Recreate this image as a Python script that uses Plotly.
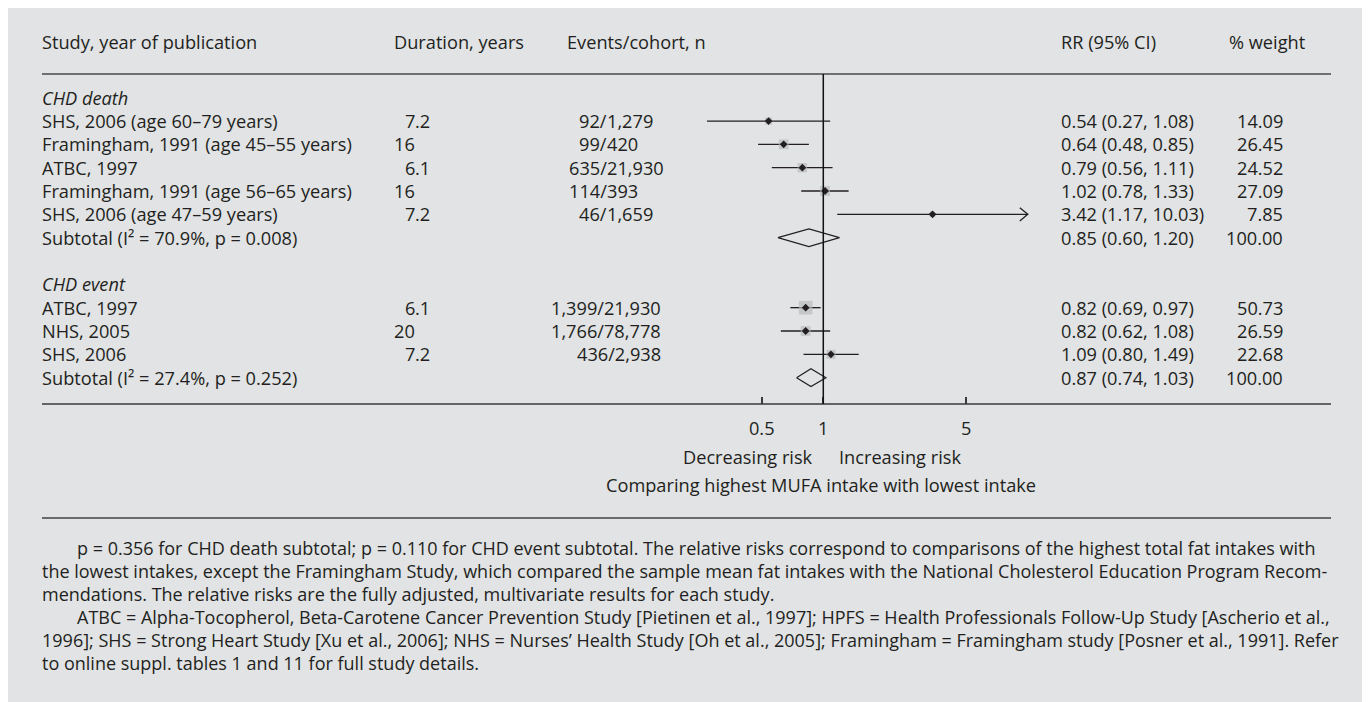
import plotly.graph_objects as go

# ---------------- data ----------------
death_studies = ["SHS, 2006 (age 60–79 years)", "Framingham, 1991 (age 45–55 years)", "ATBC, 1997",
                 "Framingham, 1991 (age 56–65 years)", "SHS, 2006 (age 47–59 years)"]
death_duration = ["7.2", "16", "6.1", "16", "7.2"]
death_events = ["92/1,279", "99/420", "635/21,930", "114/393", "46/1,659"]
death_rr = [0.54, 0.64, 0.79, 1.02, 3.42]
death_lo = [0.27, 0.48, 0.56, 0.78, 1.17]
death_hi = [1.08, 0.85, 1.11, 1.33, 10.03]
death_weight = [14.09, 26.45, 24.52, 27.09, 7.85]
death_sub = [0.85, 0.60, 1.20, 100.00]
death_sub_label = "Subtotal (I² = 70.9%, p = 0.008)"

event_studies = ["ATBC, 1997", "NHS, 2005", "SHS, 2006"]
event_duration = ["6.1", "20", "7.2"]
event_events = ["1,399/21,930", "1,766/78,778", "436/2,938"]
event_rr = [0.82, 0.82, 1.09]
event_lo = [0.69, 0.62, 0.80]
event_hi = [0.97, 1.08, 1.49]
event_weight = [50.73, 26.59, 22.68]
event_sub = [0.87, 0.74, 1.03, 100.00]
event_sub_label = "Subtotal (I² = 27.4%, p = 0.252)"

headers = ["Study, year of publication", "Duration, years", "Events/cohort, n", "RR (95% CI)", "% weight"]
tick_vals = [0.5, 1, 5]
tick_text = ["0.5", "1", "5"]
axis_clip = 10
footnotes = [
    "p = 0.356 for CHD death subtotal; p = 0.110 for CHD event subtotal. The relative risks correspond to comparisons of the highest total fat intakes with",
    "the lowest intakes, except the Framingham Study, which compared the sample mean fat intakes with the National Cholesterol Education Program Recom-",
    "mendations. The relative risks are the fully adjusted, multivariate results for each study.",
    "ATBC = Alpha-Tocopherol, Beta-Carotene Cancer Prevention Study [Pietinen et al., 1997]; HPFS = Health Professionals Follow-Up Study [Ascherio et al.,",
    "1996]; SHS = Strong Heart Study [Xu et al., 2006]; NHS = Nurses’ Health Study [Oh et al., 2005]; Framingham = Framingham study [Posner et al., 1991]. Refer",
    "to online suppl. tables 1 and 11 for full study details.",
]
footnote_indent = [True, False, False, True, False, False]

# ---------------- layout constants ----------------
W, H = 1362, 694
OFF = 8
BG = "#e1e3e5"
TXT = "#231f20"
FONT = "Open Sans"
FS = 18.2
FS_NOTE = 18
ROW0 = 97.7 - OFF
ROWH = 23.33
PXDEC = 204.5
ONE_X = 823.3 - OFF


def px(sx):
    return (sx - OFF) / W


def py(sy):
    return 1 - (sy - OFF) / H


def row_y(r):
    return ROW0 + ROWH * r + OFF  # screen y


fig = go.Figure()
annotations = []
shapes = []


def text(s, sx, sy, anchor="left", italic=False, size=FS):
    annotations.append(dict(text=("<i>%s</i>" % s) if italic else s, x=px(sx), y=py(sy), xref="paper", yref="paper",
                            xanchor=anchor, yanchor="middle", showarrow=False, borderpad=0, borderwidth=0,
                            font=dict(family=FONT, size=size, color=TXT)))


def hline(sy, color, width):
    shapes.append(dict(type="line", xref="paper", yref="paper", x0=px(42), x1=px(1331), y0=py(sy), y1=py(sy),
                       line=dict(color=color, width=width)))


# headers
hx = [42, 394, 567, 1061, 1229]
for h, x in zip(headers, hx):
    text(h, x, 42)
hline(74, "#4a4a4a", 1.6)
hline(404, "#3a3a3a", 1.6)
hline(518, "#6a6a6a", 2)

DW = 0.572 * FS  # digit width


def group(start_r, title, studies, dur, evs, rr, lo, hi, w, sub, sub_label, slash_align):
    text(title, 42, row_y(start_r), italic=True)
    rows = []
    for i, s in enumerate(studies):
        r = start_r + 1 + i
        rows.append(r)
        sy = row_y(r)
        text(s, 42, sy)
        ip, _, fp = dur[i].partition(".")
        text(ip, 394 + 2 * DW, sy, anchor="right")
        if fp:
            text("." + fp, 394 + 2 * DW, sy, anchor="left")
        if slash_align:
            num, den = evs[i].split("/")
            text(num + "/", 607, sy, anchor="right")
            text(den, 607, sy, anchor="left")
        else:
            text(evs[i], 661, sy, anchor="right")
        text("%.2f (%.2f, %.2f)" % (rr[i], lo[i], hi[i]), 1061, sy)
        text("%.2f" % w[i], 1283, sy, anchor="right")
    rs = start_r + 1 + len(studies)
    text(sub_label, 42, row_y(rs))
    text("%.2f (%.2f, %.2f)" % (sub[0], sub[1], sub[2]), 1061, row_y(rs))
    text("%.2f" % sub[3], 1283, row_y(rs), anchor="right")

    # CI lines
    xs, ys = [], []
    for i in range(len(studies)):
        xs += [lo[i], min(hi[i], axis_clip), None]
        ys += [rows[i], rows[i], None]
    fig.add_trace(go.Scatter(x=xs, y=ys, mode="lines", line=dict(color=TXT, width=1.3), hoverinfo="skip"))
    # arrows for truncated CIs
    for i in range(len(studies)):
        if hi[i] > axis_clip:
            back = axis_clip * 10 ** (-8 / PXDEC)
            fig.add_trace(go.Scatter(x=[back, axis_clip, back], y=[rows[i] - 0.28, rows[i], rows[i] + 0.28],
                                     mode="lines", line=dict(color=TXT, width=1.3), hoverinfo="skip"))
    # weight boxes
    fig.add_trace(go.Scatter(x=rr, y=rows, mode="markers",
                             marker=dict(symbol="square", size=[1.9 * v ** 0.5 for v in w], color="#b9babc",
                                         line=dict(width=0)), hoverinfo="skip"))
    fig.add_trace(go.Scatter(x=rr, y=rows, mode="markers",
                             marker=dict(symbol="diamond", size=6, color=TXT, line=dict(width=0)), hoverinfo="skip"))
    # pooled diamond
    hh = 0.38
    fig.add_trace(go.Scatter(x=[sub[1], sub[0], sub[2], sub[0], sub[1]], y=[rs, rs - hh, rs, rs + hh, rs],
                             mode="lines", line=dict(color=TXT, width=1.2), hoverinfo="skip"))


group(0, "CHD death", death_studies, death_duration, death_events, death_rr, death_lo, death_hi,
      death_weight, death_sub, death_sub_label, True)
group(8, "CHD event", event_studies, event_duration, event_events, event_rr, event_lo, event_hi,
      event_weight, event_sub, event_sub_label, False)

# null line
shapes.append(dict(type="line", xref="x", yref="paper", x0=1, x1=1, y0=py(74), y1=py(404),
                   line=dict(color="#111111", width=1.5)))

text("Decreasing risk", 813, 457, anchor="right")
text("Increasing risk", 839, 457, anchor="left")
text("Comparing highest MUFA intake with lowest intake", 821, 485, anchor="center")

fy = [548, 571, 594, 617, 640, 663]
for line, ind, sy in zip(footnotes, footnote_indent, fy):
    text(line, 77 if ind else 42, sy, size=FS_NOTE)

fig.update_layout(
    width=W, height=H, margin=dict(l=0, r=0, t=0, b=0), autosize=False,
    paper_bgcolor=BG, plot_bgcolor=BG, showlegend=False,
    annotations=annotations, shapes=shapes,
    xaxis=dict(type="log", range=[-ONE_X / PXDEC, (W - ONE_X) / PXDEC], domain=[0, 1],
               anchor="free", position=py(404), side="bottom",
               tickvals=tick_vals, ticktext=tick_text, ticks="inside", ticklen=7, tickwidth=1.5,
               tickcolor="#3a3a3a", showgrid=False, zeroline=False, showline=False,
               tickfont=dict(family=FONT, size=FS, color=TXT), ticklabelstandoff=12),
    yaxis=dict(range=[(H - ROW0) / ROWH, -ROW0 / ROWH], domain=[0, 1], visible=False,
               showgrid=False, zeroline=False),
)

fig.write_html("out.html", config={"displayModeBar": False})
